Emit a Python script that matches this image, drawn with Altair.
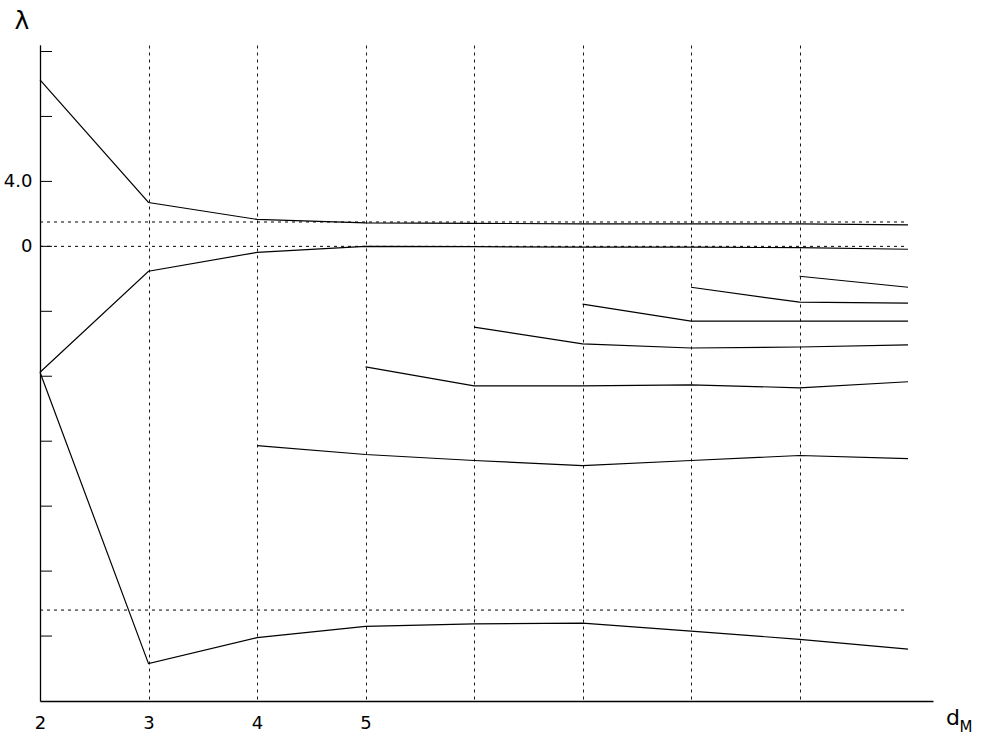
import altair as alt
import pandas as pd

# d_M values (embedding dimension)
x_vals = [2, 3, 4, 5, 6, 7, 8, 9, 10]

# Lyapunov-like exponent branches (lambda), each starting at a given d_M
s1 = [10.25, 2.7, 1.66, 1.45, 1.42, 1.38, 1.38, 1.38, 1.32]
s2 = [-7.75, -1.53, -0.37, 0.0, -0.02, -0.05, -0.05, -0.08, -0.18]
s3 = [-7.75, -25.7, -24.1, -23.4, -23.25, -23.2, -23.7, -24.2, -24.8]
s4 = [-12.27, -12.82, -13.19, -13.5, -13.19, -12.88, -13.07]   # from d_M = 4
s5 = [-7.42, -8.59, -8.59, -8.53, -8.71, -8.34]                # from d_M = 5
s6 = [-4.97, -6.01, -6.26, -6.2, -6.07]                        # from d_M = 6
s7 = [-3.56, -4.6, -4.6, -4.6]                                 # from d_M = 7
s8 = [-2.52, -3.44, -3.5]                                      # from d_M = 8
s9 = [-1.84, -2.52]                                            # from d_M = 9

series = [s1, s2, s3, s4, s5, s6, s7, s8, s9]

# dotted horizontal reference levels
ref_levels = [1.5, 0.0, -22.4]
# y tick positions
y_ticks = [-24, -20, -16, -12, -8, -4, 0, 4, 8, 12]
x_ticks = [2, 3, 4, 5, 6, 7, 8, 9]

rows = []
for i, s in enumerate(series):
    xs = x_vals[len(x_vals) - len(s):]
    for xv, yv in zip(xs, s):
        rows.append({"series": f"s{i+1}", "d": xv, "lam": yv})
df = pd.DataFrame(rows)

W, H = 893, 656
xscale = alt.Scale(domain=[2, 10.23], nice=False, zero=False)
yscale = alt.Scale(domain=[-28, 12.4], nice=False, zero=False)

FONT = "DejaVu Sans"

lines = alt.Chart(df).mark_line(color="black", strokeWidth=1.2).encode(
    x=alt.X("d:Q", scale=xscale,
            axis=alt.Axis(values=x_ticks, title=None, ticks=False, grid=True,
                          gridColor="black", gridDash=[3, 4], gridWidth=1,
                          gridOpacity=0.9, labelFlush=False,
                          labelExpr="datum.value <= 5 ? datum.value : ''",
                          labelFontSize=18, labelFont=FONT, labelColor="black",
                          labelPadding=13, domainColor="black", domainWidth=1.3)),
    y=alt.Y("lam:Q", scale=yscale,
            axis=alt.Axis(values=y_ticks, title=None, ticks=False, grid=False,
                          labelFlush=False,
                          labelExpr="datum.value == 4 ? '4.0' : datum.value == 0 ? '0' : ''",
                          labelFontSize=18, labelFont=FONT, labelColor="black",
                          labelPadding=8, domainColor="black", domainWidth=1.3)),
    detail="series:N",
)

ref_df = pd.DataFrame({"lev": ref_levels, "x0": [2] * 3, "x1": [10] * 3})
refs = alt.Chart(ref_df).mark_rule(color="black", strokeDash=[3, 4], strokeWidth=1).encode(
    x=alt.X("x0:Q", scale=xscale),
    x2="x1:Q",
    y=alt.Y("lev:Q", scale=yscale),
)

tick_df = pd.DataFrame({"t": y_ticks})
ticks = alt.Chart(tick_df).mark_rule(color="black", strokeWidth=1).encode(
    x=alt.value(0), x2=alt.value(12),
    y=alt.Y("t:Q", scale=yscale),
)

lam_label = alt.Chart(pd.DataFrame({"a": [0]})).mark_text(
    text="λ", fontSize=25, font=FONT, color="black", align="center", baseline="middle"
).encode(x=alt.value(-18), y=alt.value(-24))

d_label = alt.Chart(pd.DataFrame({"a": [0]})).mark_text(
    text="d", fontSize=22, font=FONT, color="black", align="center", baseline="middle"
).encode(x=alt.value(913), y=alt.value(673))

m_label = alt.Chart(pd.DataFrame({"a": [0]})).mark_text(
    text="M", fontSize=15, font=FONT, color="black", align="center", baseline="middle"
).encode(x=alt.value(926), y=alt.value(682))

chart = alt.layer(refs, lines, ticks, lam_label, d_label, m_label).properties(
    width=W, height=H,
    autosize=alt.AutoSizeParams(type="none"),
    padding={"left": 40, "top": 45, "right": 48, "bottom": 42},
    background="white",
).configure_view(stroke=None)

chart.save("out.html", embed_options={"renderer": "svg", "actions": False})
